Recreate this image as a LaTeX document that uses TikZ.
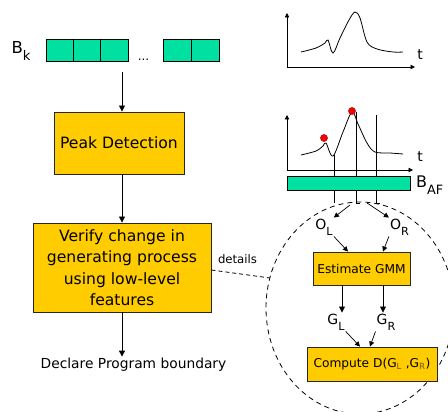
\documentclass[tikz,border=0pt]{standalone}
\usepackage{fontspec}
\setmainfont{DejaVu Sans}
\usetikzlibrary{arrows.meta,positioning}
\definecolor{cellgreen}{RGB}{0,224,160}
\definecolor{boxyellow}{RGB}{255,204,0}
\definecolor{subolive}{RGB}{105,88,15}
\newcommand{\lowidx}[1]{\raisebox{-0.8ex}{\scalebox{0.8}{#1}}}
\tikzset{
  cell/.style={draw=black, line width=0.9pt, fill=cellgreen, minimum height=22pt, minimum width=27.3pt, inner sep=0pt},
  stepbox/.style={draw=black!85, line width=0.9pt, fill=boxyellow, inner sep=0pt, align=center, font=\fontsize{15.6}{21.5}\selectfont},
  smallbox/.style={stepbox, font=\fontsize{12.2}{14}\selectfont},
  lbl/.style={inner sep=1pt, font=\fontsize{14}{16}\selectfont},
  flow/.style={-{Triangle[length=6pt,width=6pt]}, line width=0.8pt},
  thinflow/.style={-{Triangle[length=5pt,width=5pt]}, line width=0.7pt},
  axis/.style={-{Triangle[length=4.5pt,width=4.5pt]}, line width=0.8pt},
  rim/.style={dash pattern=on 5pt off 4pt, line width=0.8pt}
}

\begin{document}
\begin{tikzpicture}[x=1pt,y=-1pt]
  \useasboundingbox (0,0) rectangle (448,412);
  % detail ellipse
  \draw[rim] (360,308) ellipse [x radius=94, y radius=106];

  % left flow
  \node[inner sep=0pt, font=\fontsize{16.5}{18}\selectfont] (bk) at (21,51) {B\lowidx{k}};
  \foreach \i in {0,1,2}
    \node[cell] (cell\i) at ({59.7+27.3*\i},50) {};
  \node[inner sep=0pt, anchor=base, font=\fontsize{12}{14}\selectfont] (dots) at (143.5,61) {...};
  \foreach \i in {0,1}
    \node[cell, minimum width=28pt] (tail\i) at ({177+28*\i},50) {};
  \coordinate (bkout) at (122,72);
  \node[stepbox, minimum width=130pt, minimum height=62pt] (peak) at (119,143) {Peak Detection};
  \node[stepbox, minimum width=178pt, minimum height=89pt] (verify) at (122,267.5)
    {Verify change in\\generating process\\using low-level\\features};
  \node[inner sep=1.5pt, font=\fontsize{13.8}{16}\selectfont] (declare) at (133.5,365) {Declare Program boundary};
  \draw[flow] (bkout) -- (bkout |- peak.north);
  \draw[flow] (peak.south -| verify.north) -- (verify.north);
  \draw[flow] (verify.south) -- (verify.south |- declare.north);

  % details link
  \coordinate (rimpt) at (270,278);
  \node[inner sep=0pt, font=\fontsize{11.7}{13}\selectfont] (details) at (237.5,259) {details};
  \draw[dash pattern=on 4pt off 3pt, line width=0.8pt] ([yshift=-2.5pt]verify.east) -- (rimpt);

  % top plot
  \coordinate (o1) at (287,67);
  \draw[axis] (o1) -- (287,13);
  \draw[axis] (o1) -- (415,67);
  \node[lbl] (t1) at (420,55) {t};
  \draw[line width=0.8pt] plot[smooth, tension=0.55] coordinates {(301,52) (316,48) (325,43) (328,40) (333,53) (340,38) (349,20) (355,12) (360,18) (367,42) (377,49) (393,52) (403,52)};

  % lower plot with peaks
  \coordinate (o2) at (287,170);
  \draw[line width=0.7pt] (334,155) -- (334,203);
  \draw[line width=0.7pt] (356,112) -- (356,203) -- (360,203);
  \draw[line width=0.7pt] (376,115) -- (376,203) -- (380,203);
  \draw[axis] (o2) -- (287,115);
  \draw[axis] (o2) -- (413,170);
  \node[lbl] (t2) at (420,157) {t};
  \draw[line width=0.8pt] plot[smooth, tension=0.55] coordinates {(301,155) (316,151) (323,146) (326,143) (333,156) (343,132) (352,112) (358,124) (367,143) (375,152) (390,153) (403,154)};
  \filldraw[fill=red, draw=red!60!black, line width=0.5pt] (324,138) circle [radius=3.5];
  \filldraw[fill=red, draw=red!60!black, line width=0.5pt] (352,111) circle [radius=3.5];
  \node[cell, minimum width=123pt, minimum height=14pt] (baf) at (348.5,183) {};
  \node[inner sep=0pt, anchor=west, font=\fontsize{16}{18}\selectfont] (baflbl) at (416,185) {B\lowidx{AF}};

  % detail flow
  \coordinate (splitl) at (350,205);
  \coordinate (splitr) at (367,203);
  \node[lbl] (ol) at (324,227) {O\lowidx{L}};
  \node[lbl] (or) at (399.5,227) {O\lowidx{R}};
  \node[smallbox, minimum width=97pt, minimum height=33pt] (gmm) at (361.5,268.5) {Estimate GMM};
  \node[lbl] (gl) at (336,322) {G\lowidx{L}};
  \node[lbl] (gr) at (386,322) {G\lowidx{R}};
  \node[smallbox, minimum width=130pt, minimum height=34pt] (compute) at (372,364)
    {Compute D(G\textsubscript{\color{subolive}L} ,G\textsubscript{\color{subolive}R})};
  \draw[thinflow] (splitl) -- (ol.north east);
  \draw[thinflow] (splitr) -- (or.north west);
  \draw[thinflow] (ol.south east) -- ([xshift=-13.5pt]gmm.north);
  \draw[thinflow] (or.south west) -- ([xshift=21.5pt]gmm.north);
  \draw[flow] ([xshift=-19.5pt]gmm.south) -- ([xshift=6pt]gl.north);
  \draw[flow] ([xshift=21.5pt]gmm.south) -- ([xshift=-3pt]gr.north);
  \draw[thinflow] (gl.south east) -- ([xshift=-12pt]compute.north);
  \draw[thinflow] (gr.south west) -- ([xshift=-2pt]compute.north);
\end{tikzpicture}
\end{document}
